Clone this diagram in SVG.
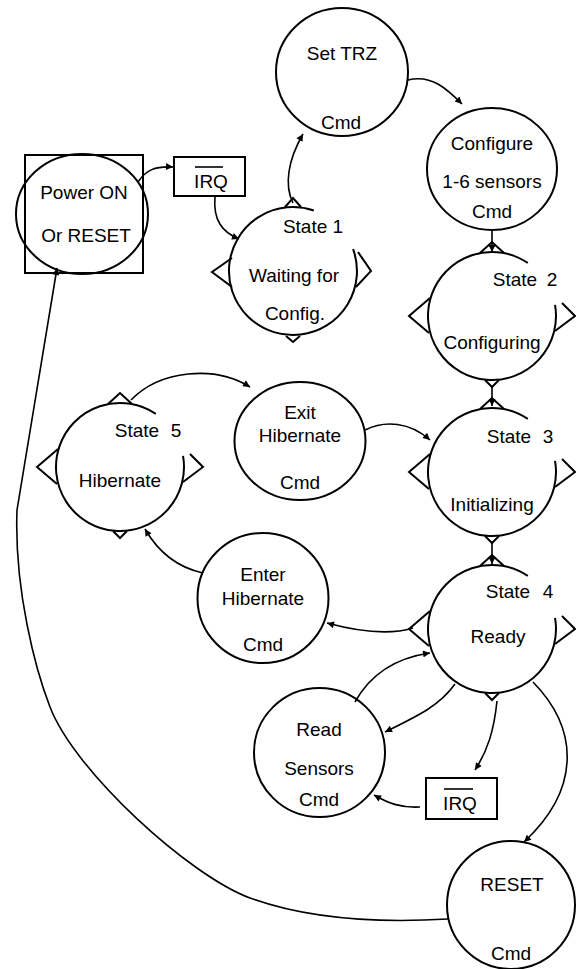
<svg xmlns="http://www.w3.org/2000/svg" xmlns:xlink="http://www.w3.org/1999/xlink" width="576" height="969" viewBox="0 0 576 969">
<style>
.shape{fill:none;stroke:#000;stroke-width:2}
.conn{fill:none;stroke:#000;stroke-width:1.6}
.lbl{font-family:"Liberation Sans",Arial,sans-serif;font-size:19px;fill:#000;text-anchor:middle}
.bar{stroke:#000;stroke-width:1.6}
</style>
<defs>
<marker id="arr" viewBox="0 0 10 10" refX="10" refY="5" markerWidth="9" markerHeight="7" markerUnits="userSpaceOnUse" orient="auto"><path d="M0,0 L10,5 L0,10 z" fill="#000"/></marker>
<g id="state-shape">
<path class="shape" d="M63.03,-11.11 A64,64 0 1 1 35.79,-53.06"/>
<path class="shape" d="M-12,-63 L0,-74 L12,-63"/>
<path class="shape" d="M-62,-18 L-83,0 L-63,17"/>
<path class="shape" d="M70,-13 L83,0 L63,15"/>
<path class="shape" d="M-7,64 L0,71 L7,64"/>
</g>
</defs>
<rect width="576" height="969" fill="#fff"/>
<g id="connectors">
<path class="conn" d="M138,182 C146,170 155,166 173,167" marker-end="url(#arr)"/>
<path class="conn" d="M215,197 C213,220 222,232 239,239" marker-end="url(#arr)"/>
<path class="conn" d="M293,203 C284,185 288,160 303,134" marker-end="url(#arr)"/>
<path class="conn" d="M408,80 C432,74 448,90 462,104" marker-end="url(#arr)"/>
<path class="conn" d="M492,230 L492,252" marker-end="url(#arr)"/>
<path class="conn" d="M492,387 L492,406" marker-end="url(#arr)"/>
<path class="conn" d="M492,543 L492,564" marker-end="url(#arr)"/>
<path class="conn" d="M131,400 C160,370 215,365 250,387" marker-end="url(#arr)"/>
<path class="conn" d="M365,430 C385,420 410,422 430,440" marker-end="url(#arr)"/>
<path class="conn" d="M413,628 C390,635 360,632 327,623" marker-end="url(#arr)"/>
<path class="conn" d="M203,573 C180,568 160,555 145,529" marker-end="url(#arr)"/>
<path class="conn" d="M355,702 C370,675 395,658 430,653" marker-end="url(#arr)"/>
<path class="conn" d="M455,684 C440,705 420,715 385,732" marker-end="url(#arr)"/>
<path class="conn" d="M497,701 C494,730 488,750 475,770" marker-end="url(#arr)"/>
<path class="conn" d="M420,807 C400,808 388,803 374,795" marker-end="url(#arr)"/>
<path class="conn" d="M533,682 C580,730 580,790 524,842" marker-end="url(#arr)"/>
<path class="conn" d="M448,919 C380,923 310,920 250,898 C190,876 75,772 50,707 C36,671 14,590 17,510 L57,268" marker-end="url(#arr)"/>
</g>
<g id="power-on">
<rect class="shape" x="25" y="155" width="118" height="118"/>
<ellipse class="shape" cx="82" cy="214" rx="66" ry="60"/>
<text class="lbl" x="84" y="199">Power ON</text>
<text class="lbl" x="86" y="242">Or RESET</text>
</g>
<g id="irq-top">
<rect class="shape" x="174" y="157" width="71" height="39"/>
<line class="bar" x1="195" y1="167" x2="223" y2="167"/>
<text class="lbl" x="211" y="188">IRQ</text>
</g>
<g id="set-trz">
<ellipse class="shape" cx="342" cy="72" rx="66" ry="64"/>
<text class="lbl" x="342" y="60">Set TRZ</text>
<text class="lbl" x="341" y="129">Cmd</text>
</g>
<g id="configure">
<ellipse class="shape" cx="492" cy="169" rx="65" ry="61"/>
<text class="lbl" x="492" y="150">Configure</text>
<text class="lbl" x="492" y="188">1-6 sensors</text>
<text class="lbl" x="492" y="218">Cmd</text>
</g>
<g id="state1">
<path class="shape" d="M353.1,249.1 A64,64 0 1 1 313.8,210.5"/>
<path class="shape" d="M285,207 L293,198 L301,207"/>
<path class="shape" d="M232,258 L212,272 L232,287"/>
<path class="shape" d="M358,252 L371,271 L356,287"/>
<path class="shape" d="M286,336 L293,342 L300,336"/>
<text class="lbl" x="313" y="233">State 1</text>
<text class="lbl" x="294" y="282">Waiting for</text>
<text class="lbl" x="295" y="320">Config.</text>
</g>
<g id="state2">
<use xlink:href="#state-shape" transform="translate(492,316)"/>
<text class="lbl" y="286"><tspan x="515">State</tspan><tspan x="552">2</tspan></text>
<text class="lbl" x="492" y="349">Configuring</text>
</g>
<g id="state3">
<use xlink:href="#state-shape" transform="translate(492,472)"/>
<text class="lbl" y="443"><tspan x="509">State</tspan><tspan x="548">3</tspan></text>
<text class="lbl" x="492" y="511">Initializing</text>
</g>
<g id="state4">
<use xlink:href="#state-shape" transform="translate(492,629)"/>
<text class="lbl" y="598"><tspan x="508">State</tspan><tspan x="548">4</tspan></text>
<text class="lbl" x="498" y="643">Ready</text>
</g>
<g id="state5">
<use xlink:href="#state-shape" transform="translate(120,467)"/>
<text class="lbl" y="437"><tspan x="137">State</tspan><tspan x="176">5</tspan></text>
<text class="lbl" x="120" y="487">Hibernate</text>
</g>
<g id="exit-hibernate">
<ellipse class="shape" cx="300" cy="441" rx="65.5" ry="59"/>
<text class="lbl" x="300" y="419">Exit</text>
<text class="lbl" x="300" y="442">Hibernate</text>
<text class="lbl" x="300" y="489">Cmd</text>
</g>
<g id="enter-hibernate">
<ellipse class="shape" cx="263" cy="598" rx="65.5" ry="65"/>
<text class="lbl" x="263" y="581">Enter</text>
<text class="lbl" x="263" y="605">Hibernate</text>
<text class="lbl" x="263" y="651">Cmd</text>
</g>
<g id="read-sensors">
<ellipse class="shape" cx="319.5" cy="752.5" rx="65.5" ry="64.5"/>
<text class="lbl" x="319" y="736">Read</text>
<text class="lbl" x="319" y="775">Sensors</text>
<text class="lbl" x="319" y="806">Cmd</text>
</g>
<g id="irq-bottom">
<rect class="shape" x="426" y="778" width="71" height="41"/>
<line class="bar" x1="444" y1="789" x2="473" y2="789"/>
<text class="lbl" x="460" y="810">IRQ</text>
</g>
<g id="reset">
<circle class="shape" cx="511" cy="905" r="64"/>
<text class="lbl" x="512" y="891">RESET</text>
<text class="lbl" x="511" y="960">Cmd</text>
</g>
</svg>
